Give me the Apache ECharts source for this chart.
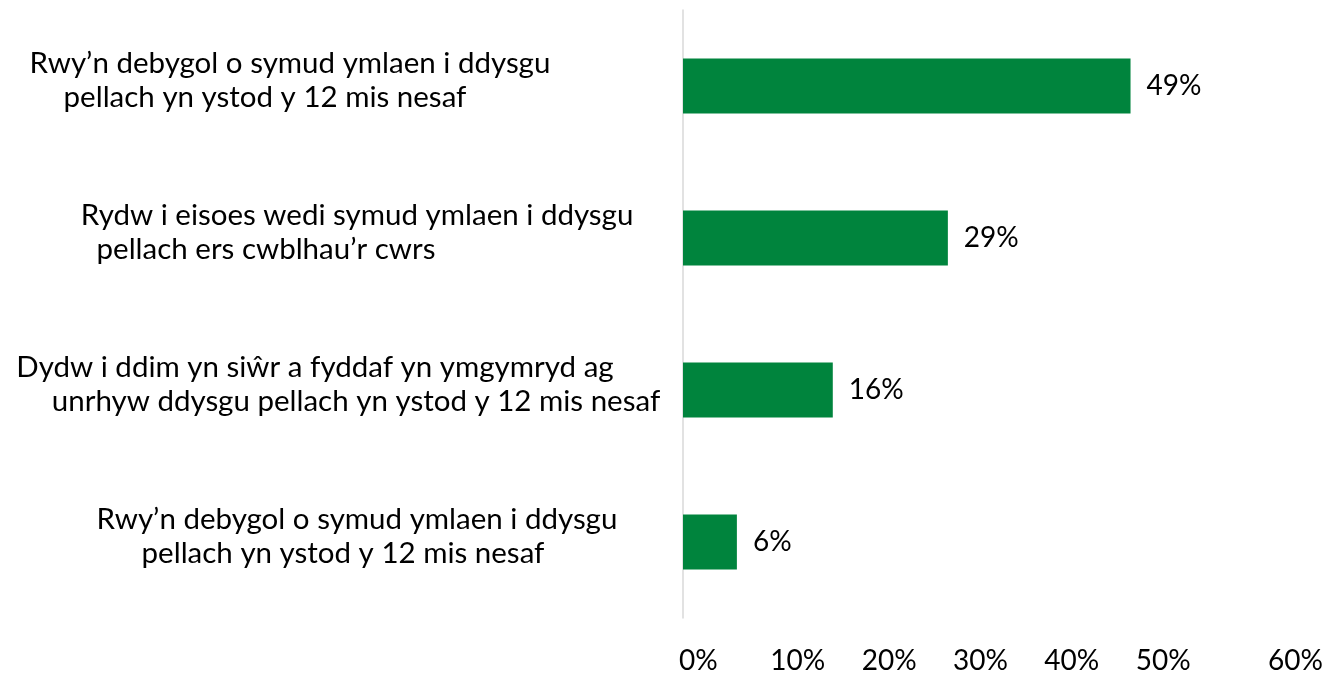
<!DOCTYPE html>
<html>
<head>
<meta charset="utf-8">
<script src="https://cdn.jsdelivr.net/npm/echarts@6/dist/echarts.min.js"></script>
<style>
html,body{margin:0;padding:0;background:#fff;}
#chart{width:1343px;height:675px;}
</style>
</head>
<body>
<div id="chart"></div>
<script>
// Category labels (each split into its two displayed lines)
const categoryLines = [
  ["Rwy\u2019n debygol o symud ymlaen i ddysgu", "pellach yn ystod y 12 mis nesaf"],
  ["Rydw i eisoes wedi symud ymlaen i ddysgu", "pellach ers cwblhau\u2019r cwrs"],
  ["Dydw i ddim yn si\u0175r a fyddaf yn ymgymryd ag", "unrhyw ddysgu pellach yn ystod y 12 mis nesaf"],
  ["Rwy\u2019n debygol o symud ymlaen i ddysgu", "pellach yn ystod y 12 mis nesaf"]
];
// Line centres (x, px) of each label line as seen in the reference
const lineCentres = [
  [287, 262],
  [354, 263],
  [312, 353],
  [354, 340]
];
// Percentage values
const values = [49, 29, 16.4, 5.9];
// X axis tick values
const xTicks = [0, 10, 20, 30, 40, 50, 60];

const categories = categoryLines.map((l, i) => 'c' + i);
const LABEL_FONT = 29.5;

const measureCtx = document.createElement('canvas').getContext('2d');
measureCtx.font = LABEL_FONT + 'px Lato';

const rich = {};
categoryLines.forEach((lines, i) => {
  lines.forEach((t, j) => {
    const w = measureCtx.measureText(t).width;
    const pad = Math.max(0, lineCentres[i][j] - w / 2);
    rich['l' + i + '_' + j] = {
      padding: [0, 0, 0, pad],
      align: 'left',
      fontFamily: 'Lato',
      fontSize: LABEL_FONT,
      lineHeight: 34,
      color: '#000'
    };
  });
});

const chart = echarts.init(document.getElementById('chart'), null, {renderer: 'canvas'});
chart.setOption({
  animation: false,
  backgroundColor: '#fff',
  grid: {left: 680, right: 112, top: 10, bottom: 57, containLabel: false},
  xAxis: {
    type: 'value',
    min: xTicks[0],
    max: xTicks[xTicks.length - 1],
    interval: 10,
    splitLine: {show: false},
    axisLine: {show: false},
    axisTick: {show: false},
    axisLabel: {
      show: true,
      align: 'left',
      margin: 29,
      fontFamily: 'Lato',
      fontSize: 28,
      color: '#000',
      showMaxLabel: true,
      showMinLabel: true,
      hideOverlap: false,
      formatter: function (v) {
        return v === 60 ? '{far|' + v + '%}' : '{n|' + v + '%}';
      },
      rich: {
        n: {padding: [0, 0, 0, -4], fontFamily: 'Lato', fontSize: 28, color: '#000'},
        far: {padding: [0, 0, 0, 37], fontFamily: 'Lato', fontSize: 28, color: '#000'}
      }
    }
  },
  yAxis: {
    type: 'category',
    inverse: true,
    data: categories,
    axisLine: {show: true, lineStyle: {color: '#d9d9d9', width: 1.5}},
    axisTick: {show: false},
    splitLine: {show: false},
    axisLabel: {
      show: true,
      interval: 0,
      align: 'left',
      margin: 680,
      padding: [0, 0, 12, 0],
      formatter: function (v, idx) {
        return categoryLines[idx].map((t, j) => '{l' + idx + '_' + j + '|' + t + '}').join('\n');
      },
      rich: rich
    }
  },
  series: [{
    type: 'bar',
    data: values,
    barWidth: 55,
    itemStyle: {color: '#00843D'},
    label: {
      show: true,
      position: 'right',
      distance: 16,
      fontFamily: 'Lato',
      fontSize: 28,
      color: '#000',
      formatter: function (p) { return Math.round(p.value) + '%'; }
    }
  }]
});
</script>
</body>
</html>
